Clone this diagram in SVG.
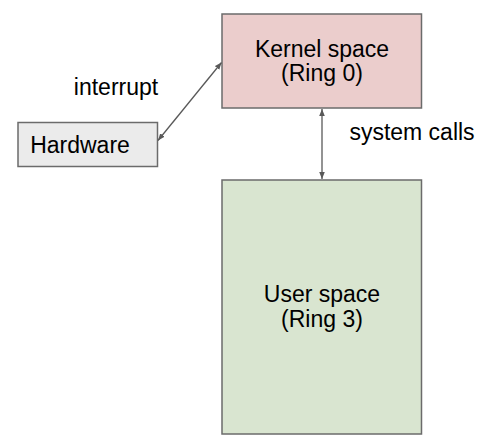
<svg xmlns="http://www.w3.org/2000/svg" width="485" height="436" viewBox="0 0 485 436">
<style>
text{font-family:"Liberation Sans",Arial,Helvetica,sans-serif;font-size:23px;fill:#000;text-anchor:middle}
.box{stroke:#6b6b6b;stroke-width:1.5}
.conn{stroke:#595959;stroke-width:1.3;fill:none;marker-start:url(#ah);marker-end:url(#ah)}
</style>
<defs>
<marker id="ah" viewBox="0 0 10 10" refX="10" refY="5" markerWidth="7" markerHeight="7" orient="auto-start-reverse" markerUnits="userSpaceOnUse">
<path d="M0,1 L10,5 L0,9 Z" fill="#595959"/>
</marker>
</defs>
<rect width="485" height="436" fill="#fff"/>
<g id="kernel">
<rect class="box" x="222" y="14" width="199.5" height="94" fill="#ebcdcc"/>
<text x="322" y="57">Kernel space</text>
<text x="322" y="81">(Ring 0)</text>
</g>
<g id="user">
<rect class="box" x="222" y="180" width="199.5" height="254" fill="#d9e5d0"/>
<text x="322" y="302">User space</text>
<text x="322" y="327">(Ring 3)</text>
</g>
<g id="hardware">
<rect class="box" x="18" y="122.5" width="139.5" height="44" fill="#ebebeb"/>
<text x="80" y="153">Hardware</text>
</g>
<g id="connectors">
<line class="conn" x1="158" y1="140.5" x2="221.5" y2="62.5"/>
<line class="conn" x1="322" y1="109" x2="322" y2="179"/>
<text x="116" y="95">interrupt</text>
<text x="412" y="140">system calls</text>
</g>
</svg>
